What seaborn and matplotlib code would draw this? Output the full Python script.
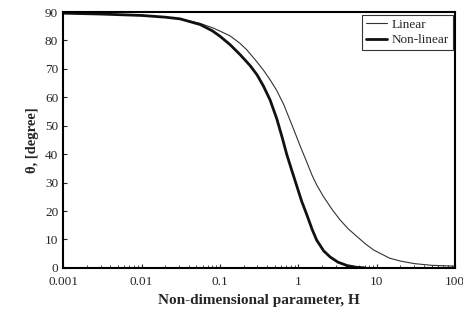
import numpy as np
import pandas as pd
import matplotlib
matplotlib.use("Agg")
import matplotlib.pyplot as plt
import seaborn as sns

# Data
H_linear = [0.001, 0.003, 0.01, 0.02, 0.035, 0.056, 0.08, 0.1, 0.135, 0.18, 0.22,
            0.28, 0.358, 0.44, 0.53, 0.65, 0.87, 1.05, 1.29, 1.5, 1.71, 2.1, 2.7,
            3.4, 4.3, 5.6, 7.2, 9.1, 14.6, 20, 30, 50, 100]
theta_linear = [89.6, 89.3, 88.9, 88.2, 87.3, 86.0, 84.5, 83.3, 81.6, 79.0, 76.7,
                73.3, 69.6, 66.0, 62.4, 57.5, 48.8, 43.0, 37.0, 32.5, 29.2, 25.0, 20.5,
                16.9, 13.8, 11.0, 8.4, 6.3, 3.4, 2.4, 1.5, 0.9, 0.6]

H_nonlinear = [0.001, 0.003, 0.01, 0.02, 0.031, 0.056, 0.08, 0.1, 0.135, 0.181, 0.24,
               0.296, 0.358, 0.437, 0.53, 0.62, 0.71, 0.82, 0.95, 1.1, 1.29, 1.5,
               1.71, 2.1, 2.55, 3.2, 4.2, 5.5, 7.0]
theta_nonlinear = [89.6, 89.3, 88.8, 88.2, 87.6, 85.6, 83.4, 81.5, 78.5, 75.0, 71.3,
                   68.0, 64.0, 59.0, 52.5, 46.0, 40.0, 34.5, 29.0, 23.5, 18.5, 13.5,
                   9.8, 6.0, 3.8, 2.0, 0.8, 0.2, 0.0]

df = pd.concat([
    pd.DataFrame({"H": H_linear, "theta": theta_linear, "model": "Linear"}),
    pd.DataFrame({"H": H_nonlinear, "theta": theta_nonlinear, "model": "Non-linear"}),
])

sns.set_style("ticks")
plt.rcParams["font.family"] = ["Liberation Serif", "DejaVu Serif"]

fig = plt.figure(figsize=(4.64, 3.17), dpi=100)
ax = fig.add_axes([0.136, 0.155, 0.845, 0.807])

sns.lineplot(data=df, x="H", y="theta", hue="model", size="model",
             sizes={"Linear": 0.8, "Non-linear": 2.0},
             palette={"Linear": "#333333", "Non-linear": "#111111"},
             ax=ax, estimator=None, sort=True)
for ln in ax.get_lines():
    ln.set_solid_joinstyle("round")

ax.set_xscale("log")
ax.set_xlim(0.001, 100)
ax.set_ylim(0, 90)
ax.set_yticks(range(0, 91, 10))
ax.set_xticks([0.001, 0.01, 0.1, 1, 10, 100])
ax.set_xticklabels(["0.001", "0.01", "0.1", "1", "10", "100"])
ax.tick_params(axis="both", which="both", direction="in", labelsize=9.5)
ax.tick_params(axis="both", which="major", length=3)
ax.tick_params(axis="x", which="minor", length=2)
ax.tick_params(axis="x", pad=6)
for s in ax.spines.values():
    s.set_linewidth(1.5)
    s.set_color("black")

ax.set_xlabel("Non-dimensional parameter, H", fontsize=11, fontweight="bold")
ax.set_ylabel("θ, [degree]", fontsize=10.5, fontweight="bold")

leg = ax.legend(loc="upper right", frameon=True, fancybox=False, fontsize=9.5,
                handlelength=1.6, handletextpad=0.3, borderpad=0.3,
                labelspacing=0.25, borderaxespad=0.2)
leg.get_frame().set_edgecolor("black")
leg.get_frame().set_linewidth(0.8)
leg.set_title(None)

fig.savefig("out.png", dpi=100)
